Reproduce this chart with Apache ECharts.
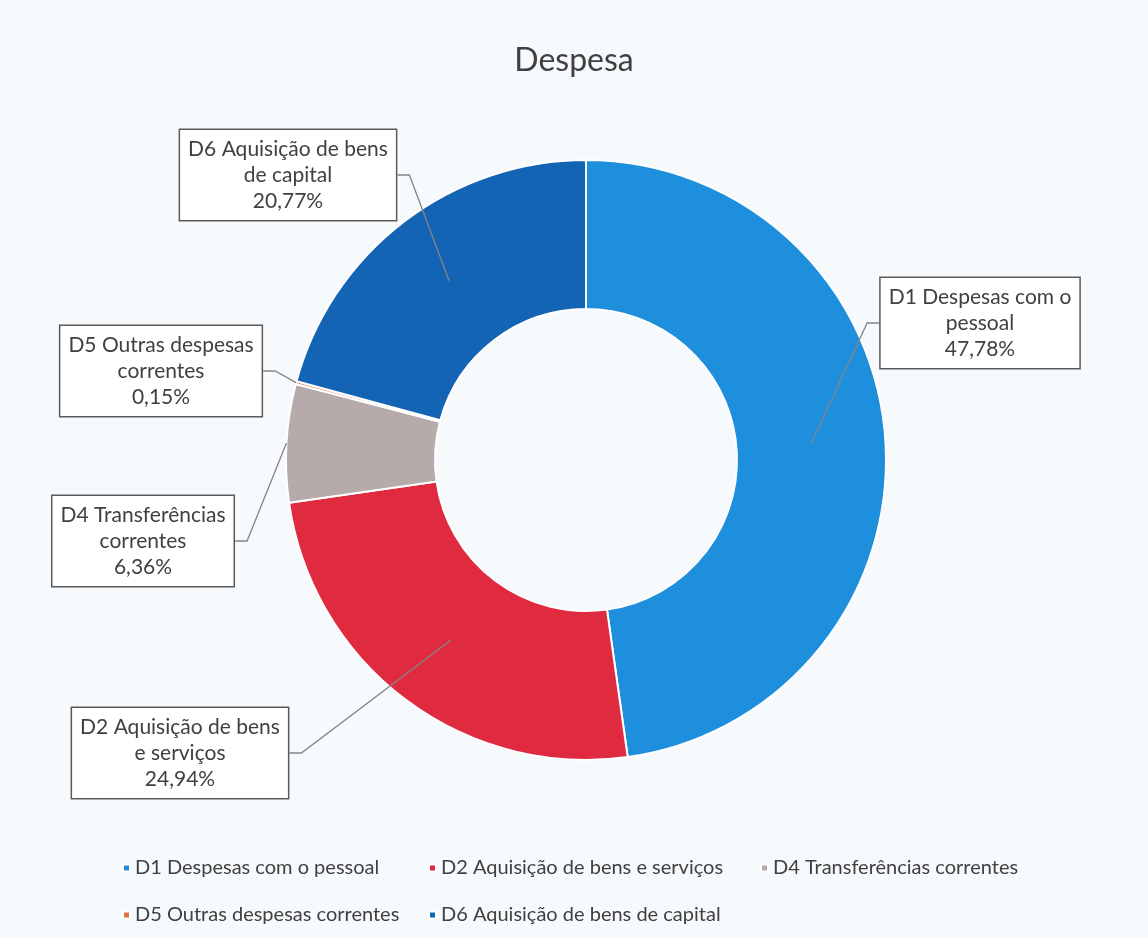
<!DOCTYPE html>
<html>
<head>
<meta charset="utf-8">
<style>
  html, body { margin: 0; padding: 0; background: #f7fafd; }
  #despesa { width: 1148px; height: 938px; }
</style>
<script src="https://cdn.jsdelivr.net/npm/echarts@6/dist/echarts.min.js"></script>
</head>
<body>
<div id="despesa"></div>
<script>
// Despesa - donut chart by category

const CATEGORIES = [
    "D1 Despesas com o pessoal",
    "D2 Aquisição de bens e serviços",
    "D4 Transferências correntes",
    "D5 Outras despesas correntes",
    "D6 Aquisição de bens de capital"
];

// text of each box label, line broken as in the picture
const LABEL_TEXT = [
    "D1 Despesas com o\npessoal",
    "D2 Aquisição de bens\ne serviços",
    "D4 Transferências\ncorrentes",
    "D5 Outras despesas\ncorrentes",
    "D6 Aquisição de bens\nde capital"
];

const PERCENTS = [47.78, 24.94, 6.36, 0.15, 20.77];

const COLORS = ["#1e8fdd", "#e02a40", "#b6aaab", "#e2703e", "#1464b6"];

const FONT = "Lato, 'Open Sans', sans-serif";
const TEXT = "#404040";

const CENTER = [586, 460];
const R_IN = 151;
const R_OUT = 300;

// where each label box sits (centre), same order as CATEGORIES
const LABEL_POS = [
    [980, 323],
    [180, 753],
    [143, 541],
    [161, 371],
    [288, 175]
];

// legend slots, same order as CATEGORIES
const LEGEND_POS = [
    [117, 853],
    [423, 853],
    [755, 853],
    [117, 900],
    [423, 900]
];

const chart = echarts.init(document.getElementById("despesa"));

const fmt = (v) => v.toFixed(2).replace(".", ",") + "%";
const labelWidth = [];

const legends = CATEGORIES.map((name, i) => ({
    left: LEGEND_POS[i][0],
    top: LEGEND_POS[i][1],
    orient: "horizontal",
    icon: "rect",
    itemWidth: 7,
    itemHeight: 7,
    itemGap: 6,
    data: [name],
    textStyle: { color: TEXT, fontSize: 20, fontFamily: FONT }
}));

chart.setOption({
    animation: false,
    backgroundColor: "#f7fafd",
    color: COLORS,
    title: {
        text: "Despesa",
        left: "center",
        top: 40,
        textStyle: { color: TEXT, fontSize: 32, fontWeight: "normal", fontFamily: FONT }
    },
    legend: legends,
    series: [{
        type: "pie",
        center: CENTER,
        radius: [R_IN, R_OUT],
        startAngle: 90,
        clockwise: true,
        avoidLabelOverlap: false,
        itemStyle: { borderColor: "#ffffff", borderWidth: 2 },
        label: {
            show: true,
            position: "outside",
            formatter: (p) => LABEL_TEXT[p.dataIndex] + "\n" + fmt(p.value),
            color: TEXT,
            fontSize: 21,
            fontFamily: FONT,
            lineHeight: 26,
            align: "center",
            backgroundColor: "#ffffff",
            borderColor: "#5a5a5a",
            borderWidth: 1.5,
            padding: [7, 8, 5, 8]
        },
        labelLine: { show: false },
        labelLayout: (p) => {
            const pos = LABEL_POS[p.dataIndex];
            labelWidth[p.dataIndex] = p.labelRect.width;
            return { x: pos[0], y: pos[1], align: "center", verticalAlign: "middle" };
        },
        data: CATEGORIES.map((name, i) => ({ name, value: PERCENTS[i] }))
    }]
});

// leader lines: from mid-ring (rim for thin slices) to the side of each box,
// with a short horizontal step, taken from the sector layout of the pie
const pieData = chart.getModel().getSeriesByIndex(0).getData();
const leaders = CATEGORIES.map((_, i) => {
    const L = pieData.getItemLayout(i);
    const mid = (L.startAngle + L.endAngle) / 2;
    const r = PERCENTS[i] >= 10 ? (L.r + L.r0) / 2 : L.r;
    const start = [L.cx + Math.cos(mid) * r, L.cy + Math.sin(mid) * r];
    const pos = LABEL_POS[i];
    const w = labelWidth[i] || 0;
    const right = start[0] > pos[0];
    const attach = [pos[0] + (right ? w / 2 : -w / 2), pos[1]];
    const elbow = [attach[0] + (right ? 12 : -12), pos[1]];
    return {
        type: "polyline",
        silent: true,
        z: 100,
        shape: { points: [start, elbow, attach] },
        style: { stroke: "#858585", lineWidth: 1.3, fill: null }
    };
});

chart.setOption({ graphic: leaders });
</script>
</body>
</html>
